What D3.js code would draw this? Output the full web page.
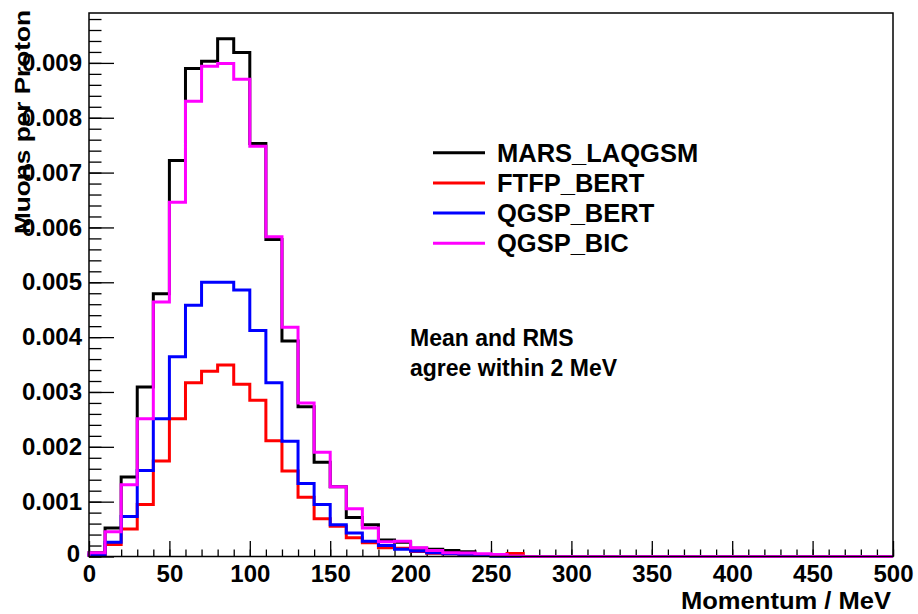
<!DOCTYPE html>
<html>
<head>
<meta charset="utf-8">
<script src="https://cdn.jsdelivr.net/npm/d3@7/dist/d3.min.js"></script>
<style>
  html, body { margin: 0; padding: 0; background: #fff; }
  svg { display: block; }
  text { font-family: "Liberation Sans", Arial, Helvetica, sans-serif; font-weight: bold; fill: #000; }
</style>
</head>
<body>
<svg id="chart" width="918" height="614"></svg>
<script>
// Muon momentum spectra, 10 MeV bins from 0 to 500 MeV (values are muons per proton)
const binWidth = 10;
const nBins = 50;

const seriesNames = ["MARS_LAQGSM", "FTFP_BERT", "QGSP_BERT", "QGSP_BIC"];
const seriesColors = ["#000000", "#ff0000", "#0000ff", "#ff00ff"];

const marsLaqgsm = [
  0.00007, 0.00052, 0.00145, 0.00309, 0.00479, 0.00722, 0.00890, 0.00903, 0.00944, 0.00919,
  0.00753, 0.00578, 0.00393, 0.00273, 0.00172, 0.00127, 0.00071, 0.00058, 0.00030, 0.00026,
  0.00015, 0.00013, 0.00011, 0.000085, 0.00002, 0.00001, 0.000005, 0, 0, 0,
  0, 0, 0, 0, 0, 0, 0, 0, 0, 0,
  0, 0, 0, 0, 0, 0, 0, 0, 0, 0
];
const ftfpBert = [
  0.00002, 0.00022, 0.00050, 0.00095, 0.00174, 0.00251, 0.00317, 0.00338, 0.00349, 0.00314,
  0.00285, 0.00211, 0.00156, 0.00108, 0.00069, 0.00055, 0.00034, 0.00025, 0.00016, 0.00015,
  0.00009, 0.00006, 0.00005, 0.00004, 0.00003, 0.00002, 0.000054, 0, 0, 0,
  0, 0, 0, 0, 0, 0, 0, 0, 0, 0,
  0, 0, 0, 0, 0, 0, 0, 0, 0, 0
];
const qgspBert = [
  0.00003, 0.00026, 0.00073, 0.00157, 0.00251, 0.00364, 0.00458, 0.00500, 0.00500, 0.00486,
  0.00412, 0.00317, 0.00210, 0.00133, 0.00095, 0.00058, 0.00043, 0.00028, 0.00020, 0.00013,
  0.00010, 0.00007, 0.00005, 0.00004, 0.00003, 0.00001, 0, 0, 0, 0,
  0, 0, 0, 0, 0, 0, 0, 0, 0, 0,
  0, 0, 0, 0, 0, 0, 0, 0, 0, 0
];
const qgspBic = [
  0.00007, 0.00045, 0.00131, 0.00251, 0.00464, 0.00646, 0.00830, 0.00894, 0.00899, 0.00870,
  0.00748, 0.00583, 0.00418, 0.00280, 0.00190, 0.00127, 0.00087, 0.00052, 0.00027, 0.00028,
  0.00016, 0.00011, 0.00007, 0.000065, 0.00005, 0.000035, 0.00001, 0, 0, 0,
  0, 0, 0, 0, 0, 0, 0, 0, 0, 0,
  0, 0, 0, 0, 0, 0, 0, 0, 0, 0
];
const seriesValues = [marsLaqgsm, ftfpBert, qgspBert, qgspBic];

const xMajorTicks = [0, 50, 100, 150, 200, 250, 300, 350, 400, 450, 500];
const yMajorTicks = [0, 0.001, 0.002, 0.003, 0.004, 0.005, 0.006, 0.007, 0.008, 0.009];

const xTitle = "Momentum / MeV";
const yTitle = "Muons per Proton";
const noteLines = ["Mean and RMS", "agree within 2 MeV"];

// ---- frame geometry
const frame = { left: 89, right: 893, top: 13, bottom: 556.5 };
const yMax = 0.00991;

const svg = d3.select("#chart");

const x = d3.scaleLinear().domain([0, nBins * binWidth]).range([frame.left, frame.right]);
const y = d3.scaleLinear().domain([0, yMax]).range([frame.bottom, frame.top]);

// ---- axes: major ticks with labels, minor ticks without
const yMinorTicks = d3.range(0, yMax, 0.0002);
const xMinorTicks = d3.range(0, 501, 10);

const gyMinor = svg.append("g").attr("transform", `translate(${frame.left},0)`)
  .call(d3.axisLeft(y).tickValues(yMinorTicks).tickSize(-12.5).tickFormat(""));
const gy = svg.append("g").attr("transform", `translate(${frame.left},0)`)
  .call(d3.axisLeft(y).tickValues(yMajorTicks).tickSize(-25).tickPadding(7)
    .tickFormat(d => d === 0 ? "0" : d3.format(".3f")(d)));

const gxMinor = svg.append("g").attr("transform", `translate(0,${frame.bottom})`)
  .call(d3.axisBottom(x).tickValues(xMinorTicks).tickSize(-7).tickFormat(""));
const gx = svg.append("g").attr("transform", `translate(0,${frame.bottom})`)
  .call(d3.axisBottom(x).tickValues(xMajorTicks).tickSize(-15.5).tickPadding(8)
    .tickFormat(d3.format("d")));

[gyMinor, gy, gxMinor, gx].forEach(g => {
  g.select(".domain").remove();
  g.selectAll(".tick line").attr("stroke", "#000").attr("stroke-width", 1.3);
  g.selectAll("text").attr("font-size", 24).attr("font-family", null).attr("fill", "#000");
});
// the zero label on the value axis sits a little lower, beside the x-axis zero
gy.selectAll(".tick").filter(d => d === 0).select("text").attr("dy", "0.2em").attr("x", -9);

// ---- histogram outlines
function stepPoints(vals) {
  const pts = [[x(0), y(0)]];
  vals.forEach((v, i) => {
    pts.push([x(i * binWidth), y(v)]);
    pts.push([x((i + 1) * binWidth), y(v)]);
  });
  pts.push([x(vals.length * binWidth), y(0)]);
  return pts;
}
const line = d3.line();
seriesValues.forEach((vals, k) => {
  svg.append("path")
    .attr("d", line(stepPoints(vals)))
    .attr("fill", "none")
    .attr("stroke", seriesColors[k])
    .attr("stroke-width", 3)
    .attr("stroke-linejoin", "miter");
});

// ---- frame
svg.append("rect")
  .attr("x", frame.left).attr("y", frame.top)
  .attr("width", frame.right - frame.left).attr("height", frame.bottom - frame.top)
  .attr("fill", "none").attr("stroke", "#000").attr("stroke-width", 1.5);

// ---- axis titles
svg.append("text")
  .attr("x", 891).attr("y", 608.8)
  .attr("text-anchor", "end").attr("font-size", 24)
  .attr("textLength", 210).attr("lengthAdjust", "spacingAndGlyphs")
  .text(xTitle);

svg.append("text")
  .attr("transform", "translate(30,10) rotate(-90)")
  .attr("text-anchor", "end").attr("font-size", 22)
  .attr("textLength", 224).attr("lengthAdjust", "spacingAndGlyphs")
  .text(yTitle);

// ---- legend
const legend = svg.append("g");
seriesNames.forEach((name, k) => {
  const ly = 152.7 + k * 30.2;
  legend.append("line")
    .attr("x1", 433).attr("x2", 485).attr("y1", ly).attr("y2", ly)
    .attr("stroke", seriesColors[k]).attr("stroke-width", 3);
  legend.append("text")
    .attr("x", 497).attr("y", ly + 9)
    .attr("font-size", 25.5)
    .text(name);
});

// ---- note
noteLines.forEach((t, i) => {
  svg.append("text")
    .attr("x", 410).attr("y", 346 + i * 30)
    .attr("font-size", 23)
    .text(t);
});
</script>
</body>
</html>
